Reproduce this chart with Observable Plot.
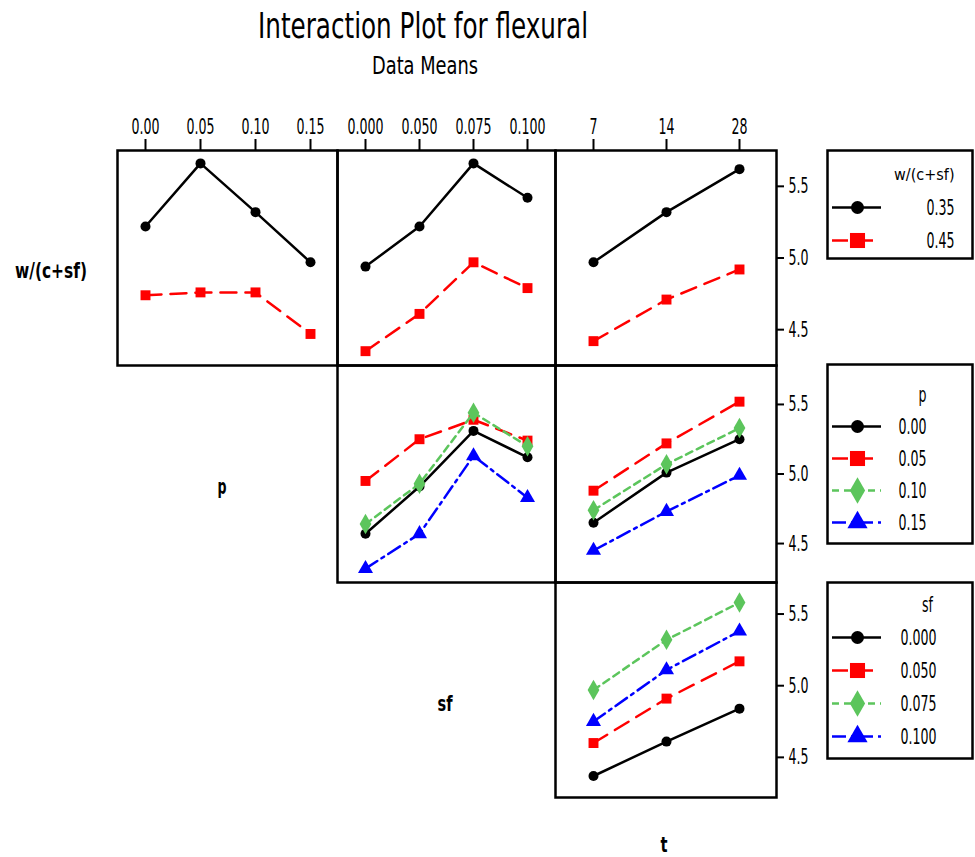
<!DOCTYPE html>
<html>
<head>
<meta charset="utf-8">
<script src="https://cdn.jsdelivr.net/npm/d3@7"></script>
<script src="https://cdn.jsdelivr.net/npm/@observablehq/plot@0.6"></script>
<style>
  body { margin: 0; background: #fff; }
  #chart { position: relative; width: 975px; height: 857px; overflow: hidden; background: #fff; }
  #chart > svg { position: absolute; }
</style>
</head>
<body>
<div id="chart"></div>
<script>
// ---- factor levels (tick labels) ----
const pLevels = ["0.00", "0.05", "0.10", "0.15"];
const sfLevels = ["0.000", "0.050", "0.075", "0.100"];
const tLevels = ["7", "14", "28"];
const wLevels = ["0.35", "0.45"];

// ---- data means: row factor (trace) x column factor ----
// w/(c+sf) traces
const w035_byP = [5.22, 5.66, 5.32, 4.97];
const w045_byP = [4.74, 4.76, 4.76, 4.47];
const w035_bySf = [4.94, 5.22, 5.66, 5.42];
const w045_bySf = [4.35, 4.61, 4.97, 4.79];
const w035_byT = [4.97, 5.32, 5.62];
const w045_byT = [4.42, 4.71, 4.92];
// p traces
const p000_bySf = [4.57, 4.91, 5.31, 5.12];
const p005_bySf = [4.95, 5.25, 5.39, 5.24];
const p010_bySf = [4.64, 4.93, 5.44, 5.20];
const p015_bySf = [4.32, 4.57, 5.13, 4.83];
const p000_byT = [4.65, 5.01, 5.25];
const p005_byT = [4.88, 5.22, 5.52];
const p010_byT = [4.74, 5.07, 5.33];
const p015_byT = [4.45, 4.73, 4.99];
// sf traces
const sf000_byT = [4.37, 4.61, 4.84];
const sf050_byT = [4.60, 4.91, 5.17];
const sf075_byT = [4.97, 5.32, 5.58];
const sf100_byT = [4.75, 5.11, 5.38];

const yTicks = [4.5, 5.0, 5.5];

// ---- styling ----
const colors = ["#000000", "#ff0000", "#5cc55c", "#0000ff"];
const symbols = ["circle", "square", "diamond", "triangle"];
const dashes = [null, "16,9", "7,5", "14,5,3,5"];
const dotR = [5, 5.6, 6.2, 5.6];
const legR = [6.5, 8.5, 8, 7.5];
const FONT = "'DejaVu Sans Condensed','DejaVu Sans',sans-serif";
const LABEL_SIZE = 22;

const chart = document.getElementById("chart");

// overlay for titles / row labels (also used to measure text)
const overlay = d3.create("svg").attr("width", 975).attr("height", 857)
  .style("left", "0px").style("top", "0px").style("font-family", FONT);
chart.appendChild(overlay.node());

// condense factor so that "0.000" is as narrow as in the original
const probe = overlay.append("text").attr("font-size", LABEL_SIZE).text("0.000");
const K = 36 / probe.node().getComputedTextLength();
probe.remove();
function condense(svg) {
  svg.querySelectorAll("text").forEach(t => {
    if (t.getAttribute("data-keep") != null || t.closest("[data-keep]")) return;
    const len = t.getComputedTextLength();
    if (len > 0) {
      t.setAttribute("textLength", (len * K).toFixed(1));
      t.setAttribute("lengthAdjust", "spacingAndGlyphs");
    }
  });
}

// panel layout
const colX = [[117, 337], [337, 555], [555, 776]];
const rowY = [[150, 365], [365, 582], [582, 797]];
const yDomains = [[4.25, 5.75], [4.22, 5.78], [4.22, 5.72]];
const M = {top: 45, right: 45, bottom: 8, left: 8};

function panel(col, row, levels, series) {
  const [x0, x1] = colX[col];
  const [y0, y1] = rowY[row];
  const w = x1 - x0, h = y1 - y0;
  const marks = [];
  series.forEach((vals, si) => {
    const d = vals.map((v, i) => ({level: levels[i], mean: v}));
    marks.push(Plot.line(d, {x: "level", y: "mean", stroke: colors[si], strokeWidth: 2.5, strokeDasharray: dashes[si]}));
    marks.push(Plot.dot(d, {x: "level", y: "mean", symbol: symbols[si], fill: colors[si], r: dotR[si]}));
  });
  marks.push(Plot.frame({stroke: "#000", strokeWidth: 2.5}));
  if (row === 0) marks.push(Plot.axisX({anchor: "top", tickSize: 12, tickPadding: 5, strokeWidth: 2, label: null}));
  if (col === 2) marks.push(Plot.axisY(yTicks, {anchor: "right", tickFormat: d3.format(".1f"), tickSize: 7, tickPadding: 5, strokeWidth: 2, label: null}));
  const svg = Plot.plot({
    width: w + M.left + M.right,
    height: h + M.top + M.bottom,
    marginTop: M.top, marginRight: M.right, marginBottom: M.bottom, marginLeft: M.left,
    x: {type: "point", domain: levels, padding: 0.5, axis: row === 0 ? undefined : null},
    y: {domain: yDomains[row], axis: col === 2 ? undefined : null},
    style: `background:none;overflow:visible;font-family:${FONT};font-size:${LABEL_SIZE}px;color:#000;`,
    marks
  });
  svg.style.left = (x0 - M.left) + "px";
  svg.style.top = (y0 - M.top) + "px";
  chart.appendChild(svg);
  condense(svg);
}

function legend(y0, y1, title, levels, o) {
  const x0 = 827, x1 = 972;
  const w = x1 - x0, h = y1 - y0;
  const m = 2;
  const dom = ["__title", ...levels];
  const marks = [Plot.frame({stroke: "#000", strokeWidth: 2.5})];
  levels.forEach((lv, i) => {
    marks.push(Plot.ruleY([lv], {y: d => d, x1: () => 5, x2: () => 54, stroke: colors[i], strokeWidth: 2.5, strokeDasharray: dashes[i]}));
    marks.push(Plot.dot([lv], {x: () => 30, y: d => d, symbol: symbols[i], fill: colors[i], r: legR[i]}));
  });
  marks.push(Plot.text(levels, {x: () => o.labelX, y: d => d, text: d => d, textAnchor: o.labelAnchor}));
  marks.push(Plot.text([title], {x: () => o.titleX, y: () => "__title", text: d => d, textAnchor: o.titleAnchor, fontSize: o.titleSize}));
  const svg = Plot.plot({
    width: w + 2 * m, height: h + 2 * m,
    marginTop: m, marginRight: m, marginBottom: m, marginLeft: m,
    x: {type: "linear", domain: [0, w], axis: null},
    y: {type: "point", domain: dom, padding: 0, range: [m + o.titleOff, m + o.lastOff], axis: null},
    style: `background:none;overflow:visible;font-family:${FONT};font-size:${LABEL_SIZE}px;color:#000;`,
    marks
  });
  svg.style.left = (x0 - m) + "px";
  svg.style.top = (y0 - m) + "px";
  chart.appendChild(svg);
  // the long legend title is set at a naturally narrow size instead of being condensed
  if (o.titleSize) svg.querySelectorAll("text").forEach(t => { if (t.textContent === title) t.setAttribute("data-keep", ""); });
  condense(svg);
}

// ---- titles and row labels ----
overlay.append("text").attr("x", 423).attr("y", 38).attr("text-anchor", "middle")
  .attr("font-size", 35).attr("textLength", 330).attr("lengthAdjust", "spacingAndGlyphs")
  .text("Interaction Plot for flexural");
overlay.append("text").attr("x", 425).attr("y", 74).attr("text-anchor", "middle")
  .attr("font-size", 24).attr("textLength", 106).attr("lengthAdjust", "spacingAndGlyphs")
  .text("Data Means");
const rowLabels = [
  {t: "w/(c+sf)", x: 51, y: 278, len: 72},
  {t: "p", x: 222, y: 494, len: 9},
  {t: "sf", x: 445, y: 711, len: 15},
  {t: "t", x: 664, y: 852, len: 7}
];
rowLabels.forEach(r => overlay.append("text").attr("x", r.x).attr("y", r.y)
  .attr("text-anchor", "middle").attr("font-size", 22).attr("font-weight", "bold")
  .attr("textLength", r.len).attr("lengthAdjust", "spacingAndGlyphs").text(r.t));

// ---- panels ----
panel(0, 0, pLevels, [w035_byP, w045_byP]);
panel(1, 0, sfLevels, [w035_bySf, w045_bySf]);
panel(2, 0, tLevels, [w035_byT, w045_byT]);
panel(1, 1, sfLevels, [p000_bySf, p005_bySf, p010_bySf, p015_bySf]);
panel(2, 1, tLevels, [p000_byT, p005_byT, p010_byT, p015_byT]);
panel(2, 2, tLevels, [sf000_byT, sf050_byT, sf075_byT, sf100_byT]);

// ---- legends ----
legend(150, 258, "w/(c+sf)", wLevels, {titleOff: 23, lastOff: 90, labelX: 127, labelAnchor: "end", titleX: 127, titleAnchor: "end", titleSize: 16});
legend(364, 543, "p", pLevels, {titleOff: 29, lastOff: 159, labelX: 71, labelAnchor: "start", titleX: 95, titleAnchor: "middle"});
legend(582, 758, "sf", sfLevels, {titleOff: 21, lastOff: 154, labelX: 73, labelAnchor: "start", titleX: 100, titleAnchor: "middle"});
</script>
</body>
</html>
